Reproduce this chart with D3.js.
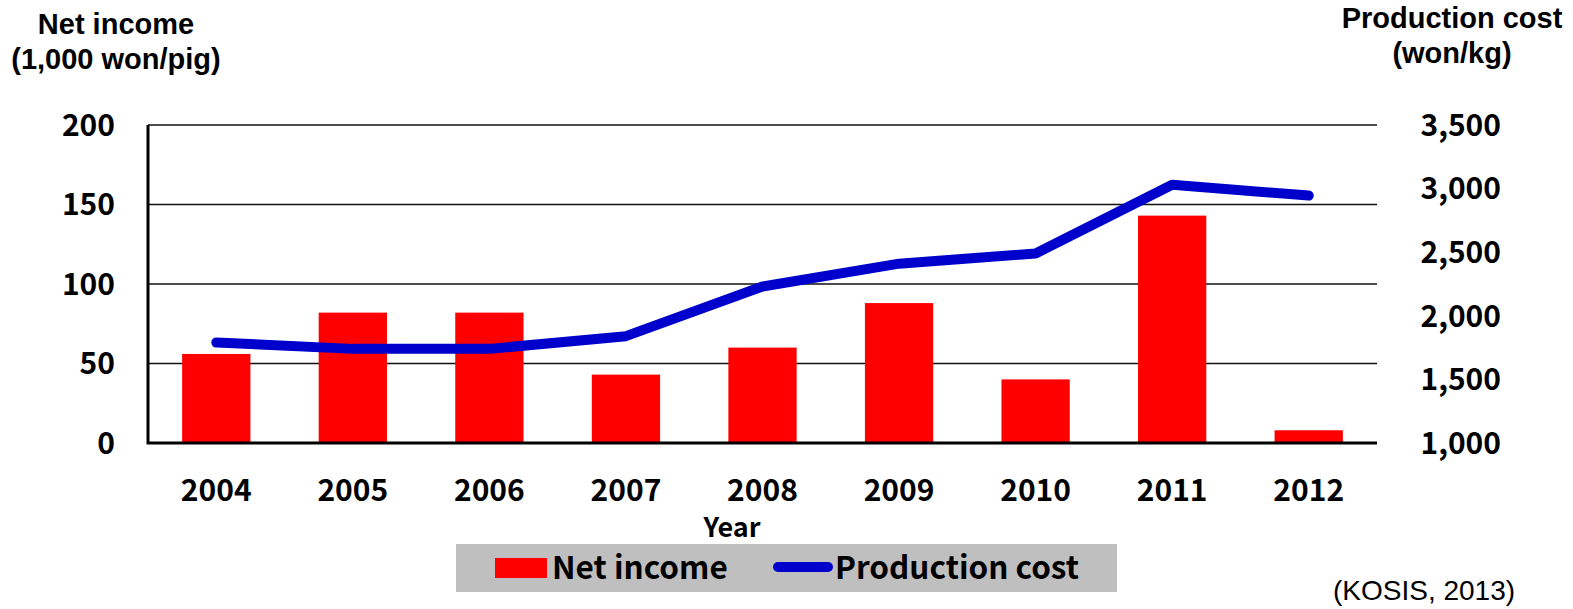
<!DOCTYPE html>
<html>
<head>
<meta charset="utf-8">
<script src="https://cdn.jsdelivr.net/npm/d3@7"></script>
<style>
  html, body { margin: 0; padding: 0; background: #fff; }
  svg { display: block; }
</style>
</head>
<body>
<svg id="chart" width="1573" height="609"></svg>
<script>
// Pig farming: net income per pig (bars) and production cost per kg (line)
const years = ["2004", "2005", "2006", "2007", "2008", "2009", "2010", "2011", "2012"];
const netIncome = [56, 82, 82, 43, 60, 88, 40, 143, 8];
const productionCost = [1790, 1740, 1740, 1840, 2230, 2410, 2490, 3030, 2945];
const leftTicks = [0, 50, 100, 150, 200];
const rightTicks = [1000, 1500, 2000, 2500, 3000, 3500];

const tickFont = "'Noto Sans CJK KR', 'Noto Sans', sans-serif";
const titleFont = "'Liberation Sans', Arial, sans-serif";

const svg = d3.select("#chart");
const plot = { left: 148, right: 1377, top: 125, bottom: 443 };

const x = d3.scaleBand().domain(years).range([plot.left, plot.right])
  .paddingInner(0.5).paddingOuter(0.25);
const yLeft = d3.scaleLinear().domain([0, 200]).range([plot.bottom, plot.top]);
const yRight = d3.scaleLinear().domain([1000, 3500]).range([plot.bottom, plot.top]);

// horizontal gridlines
svg.append("g")
  .selectAll("line")
  .data(leftTicks.filter(d => d > 0))
  .join("line")
  .attr("x1", plot.left).attr("x2", plot.right)
  .attr("y1", d => yLeft(d)).attr("y2", d => yLeft(d))
  .attr("stroke", "#111").attr("stroke-width", 1.5);

// bars
svg.append("g")
  .selectAll("rect")
  .data(years)
  .join("rect")
  .attr("x", d => x(d))
  .attr("width", x.bandwidth())
  .attr("y", (d, i) => yLeft(netIncome[i]))
  .attr("height", (d, i) => plot.bottom - yLeft(netIncome[i]))
  .attr("fill", "#ff0000");

// left axis and baseline
svg.append("path")
  .attr("d", `M${plot.left},${plot.top}V${plot.bottom}H${plot.right}`)
  .attr("fill", "none").attr("stroke", "#000").attr("stroke-width", 3);

// left tick labels
svg.append("g")
  .selectAll("text")
  .data(leftTicks)
  .join("text")
  .attr("x", 115)
  .attr("y", d => yLeft(d))
  .attr("dy", "0.36em")
  .attr("text-anchor", "end")
  .attr("font-family", tickFont).attr("font-weight", 700).attr("font-size", 30)
  .text(d => d);

// right tick labels
const fmt = d3.format(",");
svg.append("g")
  .selectAll("text")
  .data(rightTicks)
  .join("text")
  .attr("x", 1501)
  .attr("y", d => yRight(d))
  .attr("dy", "0.36em")
  .attr("text-anchor", "end")
  .attr("font-family", tickFont).attr("font-weight", 700).attr("font-size", 30)
  .text(d => fmt(d));

// category labels
svg.append("g")
  .selectAll("text")
  .data(years)
  .join("text")
  .attr("x", d => x(d) + x.bandwidth() / 2)
  .attr("y", 501)
  .attr("text-anchor", "middle")
  .attr("font-family", tickFont).attr("font-weight", 700).attr("font-size", 30)
  .text(d => d);

// production cost line
const line = d3.line()
  .x((d, i) => x(years[i]) + x.bandwidth() / 2)
  .y(d => yRight(d));
svg.append("path")
  .datum(productionCost)
  .attr("d", line)
  .attr("fill", "none")
  .attr("stroke", "#0000cc")
  .attr("stroke-width", 10)
  .attr("stroke-linecap", "round")
  .attr("stroke-linejoin", "round");

// axis titles
svg.append("text").attr("x", 732).attr("y", 537).attr("text-anchor", "middle")
  .attr("font-family", tickFont).attr("font-weight", 700).attr("font-size", 27)
  .text("Year");

const leftTitle = svg.append("text").attr("text-anchor", "middle")
  .attr("font-family", titleFont).attr("font-weight", 700).attr("font-size", 29);
leftTitle.append("tspan").attr("x", 116).attr("y", 34).text("Net income");
leftTitle.append("tspan").attr("x", 116).attr("y", 69).text("(1,000 won/pig)");

const rightTitle = svg.append("text").attr("text-anchor", "middle")
  .attr("font-family", titleFont).attr("font-weight", 700).attr("font-size", 29);
rightTitle.append("tspan").attr("x", 1452).attr("y", 28).text("Production cost");
rightTitle.append("tspan").attr("x", 1452).attr("y", 63).text("(won/kg)");

// legend
const legend = svg.append("g");
legend.append("rect").attr("x", 456).attr("y", 544).attr("width", 661).attr("height", 48)
  .attr("fill", "#bfbfbf");
legend.append("rect").attr("x", 495).attr("y", 558).attr("width", 52).attr("height", 20)
  .attr("fill", "#ff0000");
legend.append("text").attr("x", 552).attr("y", 579)
  .attr("font-family", tickFont).attr("font-weight", 700).attr("font-size", 31.5)
  .text("Net income");
legend.append("line").attr("x1", 778).attr("x2", 828).attr("y1", 567).attr("y2", 567)
  .attr("stroke", "#0000cc").attr("stroke-width", 10).attr("stroke-linecap", "round");
legend.append("text").attr("x", 835).attr("y", 579)
  .attr("font-family", tickFont).attr("font-weight", 700).attr("font-size", 31.5)
  .text("Production cost");

// source note
svg.append("text").attr("x", 1333).attr("y", 600)
  .attr("font-family", titleFont).attr("font-size", 28)
  .text("(KOSIS, 2013)");
</script>
</body>
</html>
